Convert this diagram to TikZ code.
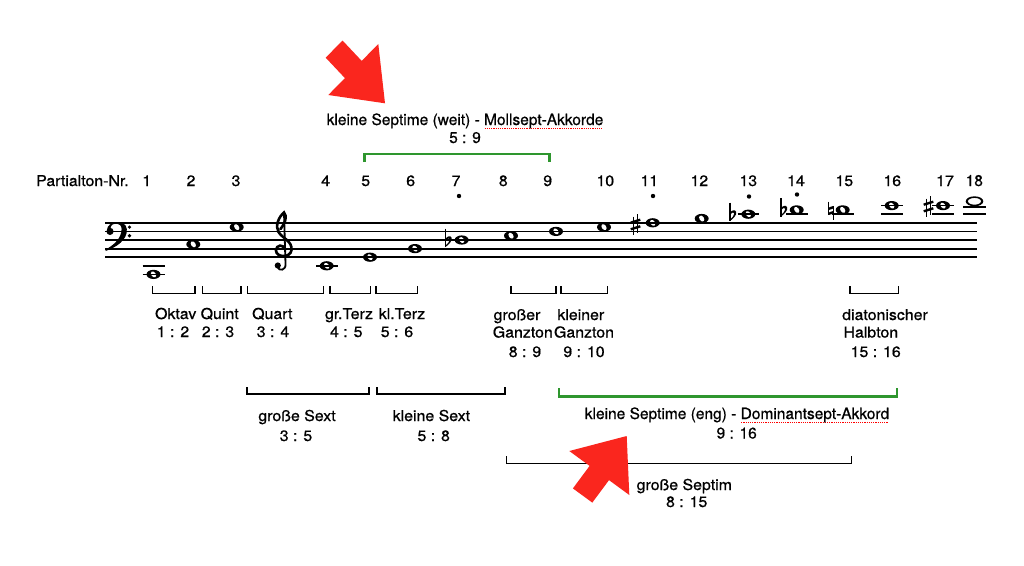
\documentclass[tikz,border=0pt]{standalone}
\usepackage{fontspec}
\setmainfont{TeX Gyre Heros}
\newfontfamily\scanfont[FakeBold=0.8, FakeStretch=1.06]{TeX Gyre Heros}
\newfontfamily\notefont[FakeBold=0.6]{TeX Gyre Heros}
\definecolor{arrowred}{RGB}{250,38,30}
\definecolor{bracketgreen}{RGB}{46,150,46}
\newcommand\spellmark[1]{\setbox0\hbox{#1}\rlap{\color{red}\raisebox{-3.5pt}{\leaders\hbox to 2.2pt{\hss\rule{1.2pt}{0.9pt}\hss}\hskip\wd0}}\box0}
\tikzset{
  staffline/.style={line width=1.8pt},
  ledgerline/.style={line width=1.7pt},
  bracketline/.style={line width=1.5pt, line join=miter},
  greenbracket/.style={draw=bracketgreen, line width=2.6pt, line join=miter},
  lbl/.style={font=\scanfont\fontsize{15}{17}\selectfont, inner sep=0pt, anchor=base},
  num/.style={font=\scanfont\fontsize{15}{17}\selectfont, inner sep=0pt, anchor=base},
  anno/.style={font=\notefont\fontsize{15.5}{17}\selectfont, inner sep=0pt, anchor=base},
  arrowshape/.style={fill=arrowred, draw=none},
  wholenote/.pic={
    \fill (0,0) ellipse [x radius=7, y radius=4.6];
    \fill[white, rotate=35] (0,0) ellipse [x radius=2.2, y radius=3.3];
  },
  opennote/.pic={
    \fill[even odd rule] (0,0) ellipse [x radius=8.8, y radius=5] (0,0) ellipse [x radius=6.6, y radius=3.4];
  },
  flatsign/.pic={
    \draw[line width=1.2pt] (0,-12) -- (0,6.5);
    \fill (0,6.5) .. controls (4,3.5) and (7,0) .. (6.2,-2.5) .. controls (5.2,-5.5) and (1.5,-4.5) .. (0,-1.5) -- (0,0.5) .. controls (2,-2.5) and (4.5,-3) .. (4.3,-1) .. controls (4,1.5) and (2,3.5) .. (0,5.2) -- cycle;
  },
  sharpsign/.pic={
    \draw[line width=1.1pt] (-2.2,-8) -- (-2.2,10.5) (2.2,-10.5) -- (2.2,8);
    \draw[line width=2.4pt] (-4.8,-1.8) -- (4.8,-4.8) (-4.8,4.8) -- (4.8,1.8);
  },
  naturalsign/.pic={
    \draw[line width=1.1pt] (-2.6,-9) -- (-2.6,4.5) (2.6,-4.5) -- (2.6,9);
    \draw[line width=2.4pt] (-2.6,-1.6) -- (2.6,-3.4) (-2.6,3.4) -- (2.6,1.6);
  },
}
\begin{document}
\begin{tikzpicture}[x=1pt,y=-1pt]
\useasboundingbox[fill=white] (0,0) rectangle (1024,565);

% ---------- notes ----------
\pic at (153.5,274.4) {wholenote};
\pic at (193.3,244.3) {wholenote};
\pic at (236.7,227.1) {wholenote};
\pic at (326.7,265.8) {wholenote};
\pic at (370,257.2) {wholenote};
\pic at (415,248.6) {wholenote};
\pic at (461.7,240) {wholenote};
\pic at (511,235.7) {wholenote};
\pic at (556,231.4) {wholenote};
\pic at (604,227.1) {wholenote};
\pic at (652.7,222.8) {wholenote};
\pic at (701.7,218.5) {wholenote};
\pic at (748.3,214.2) {wholenote};
\pic at (796.7,209.9) {wholenote};
\pic at (842.7,209.9) {wholenote};
\pic at (891.7,205.6) {wholenote};
\pic at (943,205.6) {wholenote};
\pic at (974.5,201.3) {opennote};

% accidentals
\pic at (445.5,240.5) {flatsign};
\pic at (635.5,224.5) {sharpsign};
\pic at (730,214.5) {flatsign};
\pic at (781,210) {flatsign};
\pic at (831,210.5) {naturalsign};
\pic at (928.5,206.5) {sharpsign};

% dots
\fill (459,196) circle (2.2);
\fill (653,196) circle (2.2);
\fill (749,196.5) circle (2.2);
\fill (797,194.5) circle (2.2);

% ---------- staff ----------
\foreach \yy in {222.8,231.4,240,248.6,257.2}
  \draw[staffline] (105,\yy) -- (977,\yy);

% ledger lines
\draw[ledgerline] (142.5,265.8) -- (164.5,265.8) (142.5,274.4) -- (164.5,274.4);
\draw[ledgerline] (316,265.8) -- (337.5,265.8);
\draw[ledgerline] (737.5,214.2) -- (759,214.2);
\draw[ledgerline] (786,214.2) -- (807.5,214.2);
\draw[ledgerline] (832,214.2) -- (853.5,214.2);
\draw[ledgerline] (881,214.2) -- (902.5,214.2) (881,205.6) -- (902.5,205.6);
\draw[ledgerline] (932,214.2) -- (954,214.2) (932,205.6) -- (954,205.6);
\draw[ledgerline] (963,214.2) -- (986,214.2) (963,206.8) -- (986,206.8);

% bass clef
\fill (110,231.4) circle (3.6);
\fill (107,230) .. controls (107,221) and (125.5,218) .. (126.8,229) .. controls (127.8,240) and (116,247.5) .. (105.5,251) -- (105.9,249.4) .. controls (114,245) and (121.6,238) .. (121.6,229) .. controls (121.6,222) and (111.5,221.5) .. (110.5,228) -- cycle;
\fill (129.5,227.1) circle (1.8) (129.5,235.7) circle (1.8);

% treble clef
\draw[line width=2.6pt, line cap=round] (284.5,249) .. controls (283.5,244) and (276,244.5) .. (276,250.5) .. controls (276,257.5) and (290.5,258.5) .. (291.5,250) .. controls (292.5,241) and (282,238) .. (278.5,232) .. controls (275,226) and (278.5,217) .. (284,212.5) .. controls (287,216) and (286,222) .. (280.5,229);
\draw[line width=1.8pt] (284,213) -- (285.5,264) .. controls (286,270.5) and (279,271.5) .. (277.5,267);
\fill (277.8,265.5) circle (3.1);

% ---------- partial numbers ----------
\node[num, anchor=base west] (pnr) at (36,186) {Partialton-Nr.};
\foreach \n/\xx in {1/146.7,2/191,3/236,4/325.7,5/365.7,6/410.7,7/456,8/503.3,9/547.7,10/605.3,11/649.3,12/699.3,13/748.3,14/796,15/844.3,16/892.3,17/945}
  \node[num] (n\n) at (\xx,186) {\n};
\node[anno] (n18) at (974.3,186) {18};

% ---------- top annotation ----------
\node[anno] (weit) at (465,125) {kleine Septime (weit) - \spellmark{Mollsept-Akkorde}};
\node[anno] (weitr) at (465,143) {5 : 9};
\draw[greenbracket] (364.3,162) |- (549.3,154) -- (549.3,162);

% ---------- brackets row 1 ----------
\draw[bracketline] (152.7,286) |- (195,293.3) -- (195,286);
\draw[bracketline] (202.7,286) |- (241,293.3) -- (241,286);
\draw[bracketline] (247.7,286) |- (323.3,293.3) -- (323.3,286);
\draw[bracketline] (330,286) |- (370.7,293.3) -- (370.7,286);
\draw[bracketline] (376,286) |- (417.7,293.3) -- (417.7,286);
\draw[bracketline] (511,286) |- (556,293.3) -- (556,286);
\draw[bracketline] (561,286) |- (607.7,293.3) -- (607.7,286);
\draw[bracketline] (850,286) |- (898.3,293.3) -- (898.3,286);

\node[lbl] (okt) at (175.7,319) {Oktav};
\node[lbl] (oktr) at (173,337) {1 : 2};
\node[lbl] (qui) at (219.7,319) {Quint};
\node[lbl] (quir) at (218,337) {2 : 3};
\node[lbl] (qua) at (272.3,319) {Quart};
\node[lbl] (quar) at (273,337) {3 : 4};
\node[lbl] (grt) at (349,319) {gr.Terz};
\node[lbl] (grtr) at (346.3,337) {4 : 5};
\node[lbl] (klt) at (402,319) {kl.Terz};
\node[lbl] (kltr) at (397,337) {5 : 6};
\node[lbl] (grg1) at (517,320) {großer};
\node[lbl] (grg2) at (522.8,337.5) {Ganzton};
\node[lbl] (grgr) at (525,357) {8 : 9};
\node[lbl] (klg1) at (580.8,320) {kleiner};
\node[lbl] (klg2) at (584,337.5) {Ganzton};
\node[lbl] (klgr) at (584,357) {9 : 10};
\node[lbl] (dia1) at (885,320) {diatonischer};
\node[lbl, anchor=base west] (dia2) at (843.3,337.5) {Halbton};
\node[lbl] (diar) at (875.7,357) {15 : 16};

% ---------- brackets row 2 ----------
\draw[bracketline] (247,387) |- (369,394) -- (369,387);
\draw[bracketline] (377,387) |- (505,394) -- (505,387);
\draw[greenbracket] (559,388.3) |- (897,396.7) -- (897,388.3);
\node[lbl] (gsx) at (297,421) {große Sext};
\node[lbl] (gsxr) at (296,441) {3 : 5};
\node[lbl] (ksx) at (431.4,421) {kleine Sext};
\node[lbl] (ksxr) at (433.7,441) {5 : 8};
\node[anno] (eng) at (737,419) {kleine Septime (eng) - \spellmark{Dominantsept-Akkord}};
\node[anno] (engr) at (736.7,438.5) {9 : 16};

% ---------- bracket row 3 ----------
\draw[bracketline] (506.7,456) |- (851.7,463.3) -- (851.7,456);
\node[lbl] (gsp) at (684.3,490) {große Septim};
\node[lbl] (gspr) at (686.7,507) {8 : 15};

% ---------- red arrows ----------
\fill[arrowshape] (342.5,40.5) -- (361.7,60.9) -- (378.3,44) -- (385,103.3) -- (328.3,95) -- (344.9,78.1) -- (325.7,57.7) -- cycle;
\fill[arrowshape] (626.7,436) -- (629.3,495) -- (609,480.1) -- (592.3,502.6) -- (572.9,488.4) -- (589.6,465.9) -- (569.3,451) -- cycle;
\end{tikzpicture}
\end{document}
